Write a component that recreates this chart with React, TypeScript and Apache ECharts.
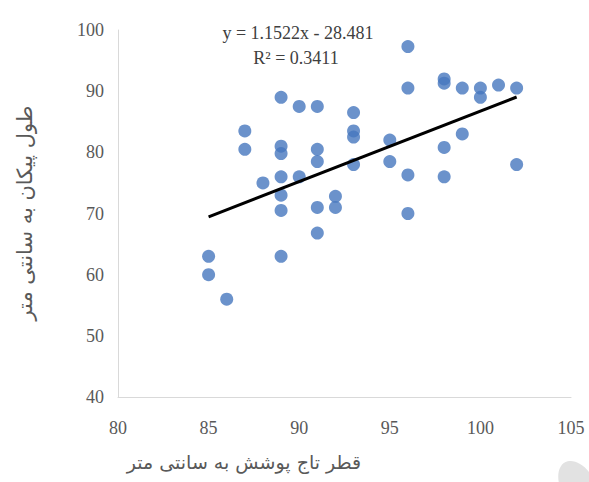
import React, { useEffect, useRef } from "react";
import * as echarts from "echarts";

const xValues = [
  85, 85, 86, 87, 87, 88,
  89, 89, 89, 89, 89, 89, 89,
  90, 90,
  91, 91, 91, 91, 91,
  92, 92,
  93, 93, 93, 93,
  95, 95,
  96, 96, 96, 96,
  98, 98, 98, 98,
  99, 99,
  100, 100,
  101,
  102, 102,
];
const yValues = [
  63, 60, 56, 83.5, 80.5, 75,
  89, 81, 79.8, 76, 73, 70.5, 63,
  87.5, 76,
  87.5, 80.5, 78.5, 71, 66.8,
  72.8, 71,
  86.5, 83.5, 82.5, 78,
  82, 78.5,
  97.3, 90.5, 76.3, 70,
  92, 91.3, 80.8, 76,
  90.5, 83,
  90.5, 89,
  91,
  90.5, 78,
];

const slope = 1.1522;
const intercept = -28.481;
const equationText = "y = 1.1522x - 28.481";
const r2Text = "R² = 0.3411";
const xAxisTitle = "قطر تاج پوشش به سانتی متر";
const yAxisTitle = "طول پیکان به سانتی متر";

export default function App() {
  const ref = useRef<HTMLDivElement>(null);
  useEffect(() => {
    if (!ref.current) return;
    const chart = echarts.init(ref.current, null, { renderer: "svg" });
    const points = xValues.map((x, i) => [x, yValues[i]]);
    const xmin = Math.min(...xValues);
    const xmax = Math.max(...xValues);
    const trend = [
      [xmin, slope * xmin + intercept],
      [xmax, slope * xmax + intercept],
    ];
    const labelStyle = {
      color: "#595959",
      fontFamily: "Liberation Serif",
      fontSize: 18,
    };
    chart.setOption({
      animation: false,
      backgroundColor: "#ffffff",
      grid: { left: 118, right: 18, top: 30, bottom: 85 },
      xAxis: {
        type: "value",
        min: 80,
        max: 105,
        interval: 5,
        axisLine: { show: true, lineStyle: { color: "#d9d9d9", width: 1 } },
        axisTick: { show: false },
        splitLine: { show: false },
        axisLabel: { ...labelStyle, margin: 22 },
      },
      yAxis: {
        type: "value",
        min: 40,
        max: 100,
        interval: 10,
        axisLine: { show: true, lineStyle: { color: "#d9d9d9", width: 1 } },
        axisTick: { show: false },
        splitLine: { show: false },
        axisLabel: { ...labelStyle, margin: 14 },
      },
      series: [
        {
          type: "scatter",
          data: points,
          symbolSize: 13,
          itemStyle: { color: "#4677BE" },
          z: 2,
        },
        {
          type: "line",
          data: trend,
          symbol: "none",
          lineStyle: { color: "#000000", width: 3 },
          z: 3,
        },
      ],
      graphic: [
        {
          type: "text",
          x: 298,
          y: 33,
          style: {
            text: equationText,
            fill: "#404040",
            fontFamily: "Liberation Serif",
            fontSize: 18,
            textAlign: "center",
            textVerticalAlign: "middle",
          },
        },
        {
          type: "text",
          x: 296,
          y: 58,
          style: {
            text: r2Text,
            fill: "#404040",
            fontFamily: "Liberation Serif",
            fontSize: 18,
            textAlign: "center",
            textVerticalAlign: "middle",
          },
        },
        {
          type: "text",
          x: 244,
          y: 462,
          style: {
            text: xAxisTitle,
            fill: "#595959",
            fontFamily: "DejaVu Sans",
            fontSize: 19,
            textAlign: "center",
            textVerticalAlign: "middle",
          },
        },
        {
          type: "text",
          x: 25,
          y: 213,
          rotation: Math.PI / 2,
          style: {
            text: yAxisTitle,
            fill: "#595959",
            fontFamily: "DejaVu Sans",
            fontSize: 21,
            textAlign: "center",
            textVerticalAlign: "middle",
          },
        },
        {
          type: "ellipse",
          x: 578,
          y: 486,
          rotation: 0.5,
          shape: { cx: 0, cy: 0, rx: 17, ry: 27 },
          style: { fill: "#e2e2e2" },
          silent: true,
        },
      ],
    });
    return () => chart.dispose();
  }, []);
  return (
    <div
      ref={ref}
      style={{ position: "fixed", left: 0, top: 0, width: 589, height: 482 }}
    />
  );
}
